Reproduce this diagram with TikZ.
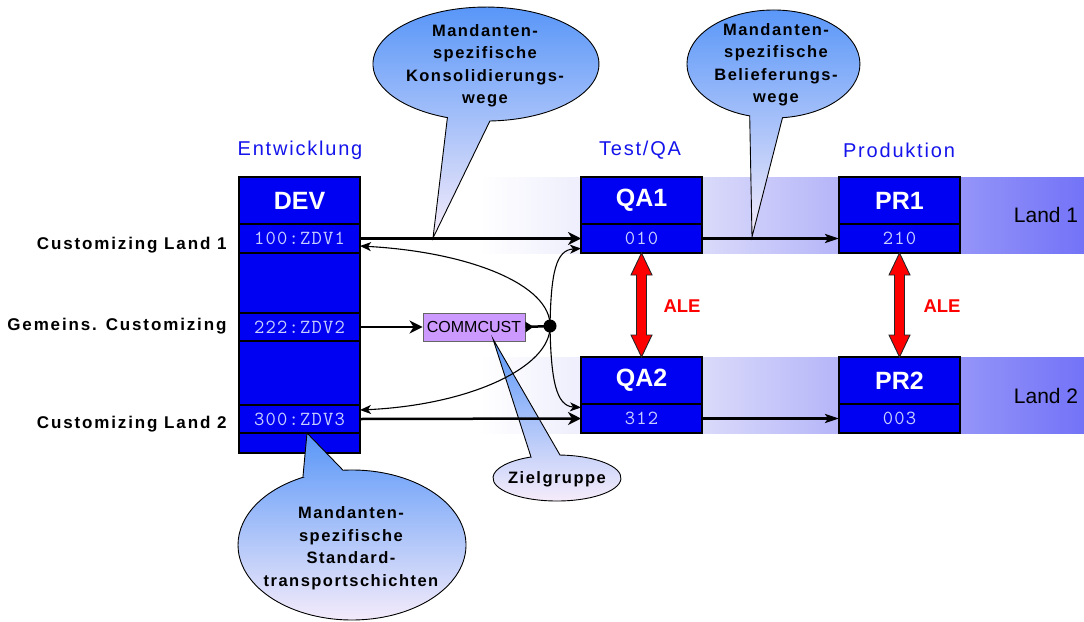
\documentclass[tikz,border=0pt]{standalone}
\usepackage{fontspec}
\setmainfont{Liberation Sans}
\newfontfamily\trk[LetterSpace=9]{Liberation Sans}
\newfontfamily\trkw[LetterSpace=11]{Liberation Sans}
\newfontfamily\monof[LetterSpace=6]{Latin Modern Mono}
\usetikzlibrary{arrows.meta,calc}
\definecolor{boxblue}{RGB}{0,0,242}
\definecolor{monotxt}{RGB}{200,208,255}
\definecolor{headblue}{RGB}{20,20,235}
\definecolor{bandA}{RGB}{218,218,250}
\definecolor{bandB}{RGB}{115,115,248}
\definecolor{calltop}{RGB}{88,150,248}
\definecolor{callbot}{RGB}{246,236,250}
\definecolor{ccpurple}{RGB}{204,153,255}
\begin{document}
\begin{tikzpicture}[x=1pt,y=-1pt,
  sysbox/.style={draw=black, line width=1.3pt, fill=boxblue, inner sep=0pt, outer sep=0pt, minimum width=121pt},
  systitle/.style={sysbox, minimum height=47pt, text=white, font=\fontsize{25}{25}\selectfont\bfseries},
  client/.style={sysbox, minimum height=29pt, text=monotxt, font=\monof\fontsize{20}{20}\selectfont},
  heading/.style={text=headblue, font=\trk\fontsize{20}{20}\selectfont},
  rowlabel/.style={anchor=base east, font=\trkw\bfseries\fontsize{17}{17}\selectfont},
  landlabel/.style={font=\fontsize{21}{21}\selectfont},
  alelabel/.style={anchor=base west, text=red, font=\bfseries\fontsize{18.5}{18.5}\selectfont},
  callout/.style={draw=black, line width=0.9pt, top color=calltop, bottom color=callbot},
  callouttext/.style={align=center, font=\trk\bfseries\fontsize{16.5}{22.5}\selectfont},
  thickarrow/.style={line width=2.5pt, -{Stealth[length=13pt,width=13pt,inset=4pt]}},
  prarrow/.style={line width=2.2pt, -{Stealth[length=14pt,width=9pt,inset=3pt]}},
  curvearrow/.style={line width=1.1pt, -{Stealth[length=11pt,width=9pt,inset=3pt]}},
  aleshape/.style={fill=red, draw=black!85, line width=0.9pt, line join=miter}
]
\useasboundingbox (0,0) rectangle (1084,621);
% bands
\shade[left color=white, right color=bandA] (480,177) rectangle (702,253);
\shade[left color=bandA, right color=bandB] (702,177) rectangle (1084,253);
\shade[left color=white, right color=bandA] (480,357) rectangle (702,433);
\shade[left color=bandA, right color=bandB] (702,357) rectangle (1084,433);
\node[landlabel] (land1) at (1046,215) {Land 1};
\node[landlabel] (land2) at (1046,396) {Land 2};
% headings
\node[heading] (hdev) at (300,150) {Entwicklung};
\node[heading] (hqa) at (640,150) {Test/QA};
\node[heading] (hpr) at (899,150) {Produktion};
% row labels
\node[rowlabel] (l1) at (230,249) {Customizing Land 1};
\node[rowlabel] (l2) at (230,330) {Gemeins. Customizing};
\node[rowlabel] (l3) at (230,428) {Customizing Land 2};
% DEV
\node[sysbox, minimum height=276pt] (dev) at (299.5,315) {};
\node[systitle] (devt) at (299.5,200.5) {DEV};
\node[client] (zdv1) at (299.5,238.5) {100:ZDV1};
\node[client, minimum height=28pt] (zdv2) at (299.5,327) {222:ZDV2};
\node[client, minimum height=28pt] (zdv3) at (299.5,419) {300:ZDV3};
% QA
\node[systitle] (qa1) at (641.5,200.5) {QA1};
\node[client] (qa1c) at (641.5,238.5) {010};
\node[systitle] (qa2) at (641.5,380.5) {QA2};
\node[client] (qa2c) at (641.5,418.5) {312};
% PR
\node[systitle] (pr1) at (899.5,200.5) {PR1};
\node[client] (pr1c) at (899.5,238.5) {210};
\node[systitle] (pr2) at (899.5,380.5) {PR2};
\node[client] (pr2c) at (899.5,418.5) {003};
% COMMCUST
\node[draw=black!60, line width=0.9pt, fill=ccpurple, minimum width=102pt, minimum height=28pt, inner sep=0pt, font=\fontsize{16}{16}\selectfont] (cc) at (474,327) {COMMCUST};
\node[circle, fill=black, minimum size=13pt, inner sep=0pt] (jn) at (550,326) {};
% callouts
\path[callout] (447.4,117.6) -- (433,238) -- (489.9,121.0) arc[start angle=272, end angle=610, x radius=113pt, y radius=57pt] -- cycle;
\node[callouttext] (c1) at (485,66) {Mandanten-\\spezifische\\Konsolidierungs-\\wege};
\path[callout] (749.7,115.9) -- (752,237) -- (782.5,117.7) arc[start angle=276, end angle=614, x radius=86.5pt, y radius=54pt] -- cycle;
\node[callouttext] (c2) at (776,65) {Mandanten-\\spezifische\\Belieferungs-\\wege};
\path[callout] (302.9,477.3) -- (307,433) -- (343.05,470.23) arc[start angle=94.5, end angle=-244.5, x radius=114pt, y radius=75pt] -- cycle;
\node[callouttext] (c3) at (351,548) {Mandanten-\\spezifische\\Standard-\\transportschichten};
\path[callout] (531,457) -- (493,339) -- (560,455.03) arc[start angle=87.3, end angle=-246, x radius=64pt, y radius=23pt] -- cycle;
\node[callouttext] (c4) at (557,479) {Zielgruppe};
% connectors
\draw[thickarrow] (zdv1.east) -- (qa1c.west);
\draw[thickarrow] (zdv3.east) -- (qa2c.west);
\draw[prarrow] (qa1c.east) -- (pr1c.west);
\draw[prarrow] (qa2c.east) -- (pr2c.west);
\draw[thickarrow] (zdv2.east) -- (cc.west);
\draw[line width=2.5pt, {Triangle[reversed,length=8pt,width=10pt]}-] (cc.east) -- (jn.center);
\draw[curvearrow] (jn.center) .. controls (551,285) and (470,252) .. ($(zdv1.east)+(0,7.5)$);
\draw[curvearrow] (jn.center) .. controls (551,367) and (470,405) .. ($(zdv3.east)+(0,-9)$);
\draw[curvearrow] (jn.center) .. controls (551,272) and (556,250) .. ($(qa1c.west)+(0,10)$);
\draw[curvearrow] (jn.center) .. controls (551,380) and (556,406) .. ($(qa2c.west)+(0,-11)$);
% ALE
\draw[aleshape] (qa1c.south) -- ++(10.5,22) -- ++(-5.5,0) -- ($(qa2.north)+(5,-22)$) -- ++(5.5,0) -- (qa2.north) -- ++(-10.5,-22) -- ++(5.5,0) -- ($(qa1c.south)+(-5,22)$) -- ++(-5.5,0) -- cycle;
\draw[aleshape] (pr1c.south) -- ++(10.5,22) -- ++(-5.5,0) -- ($(pr2.north)+(5,-22)$) -- ++(5.5,0) -- (pr2.north) -- ++(-10.5,-22) -- ++(5.5,0) -- ($(pr1c.south)+(-5,22)$) -- ++(-5.5,0) -- cycle;
\node[alelabel] (ale1) at (660,312) {ALE};
\node[alelabel] (ale2) at (920,312) {ALE};
\end{tikzpicture}
\end{document}
